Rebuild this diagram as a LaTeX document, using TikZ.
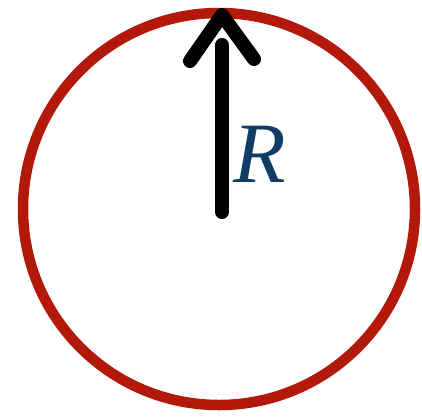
\documentclass[tikz,border=0pt]{standalone}
\usepackage{fontspec}
\newfontfamily\labelfont{Liberation Serif}
\usepackage{xcolor}
\definecolor{ringred}{HTML}{B3190A}
\definecolor{labelblue}{HTML}{0F3D66}
\begin{document}
\begin{tikzpicture}[x=1pt,y=-1pt,
  ring/.style={draw=ringred,line width=10.5pt},
  vec/.style={draw=black,line width=14pt,line cap=round,line join=round},
  lbl/.style={text=labelblue,inner sep=0pt,font=\labelfont\itshape\fontsize{86}{86}\selectfont}]
\useasboundingbox (0,0) rectangle (422,416);
\coordinate (c) at (219,209);
\path[ring] (c) circle[radius=196];
\coordinate (o) at (222,212);
\coordinate (s) at (222,45);
\coordinate (tip) at (222,15);
\coordinate (bl) at (190,61);
\coordinate (br) at (254,59);
\path[vec] (o) -- (s);
\path[vec] (bl) -- (tip) -- (br);
\node[lbl,anchor=base] (r) at (260,182) {R};
\end{tikzpicture}
\end{document}
